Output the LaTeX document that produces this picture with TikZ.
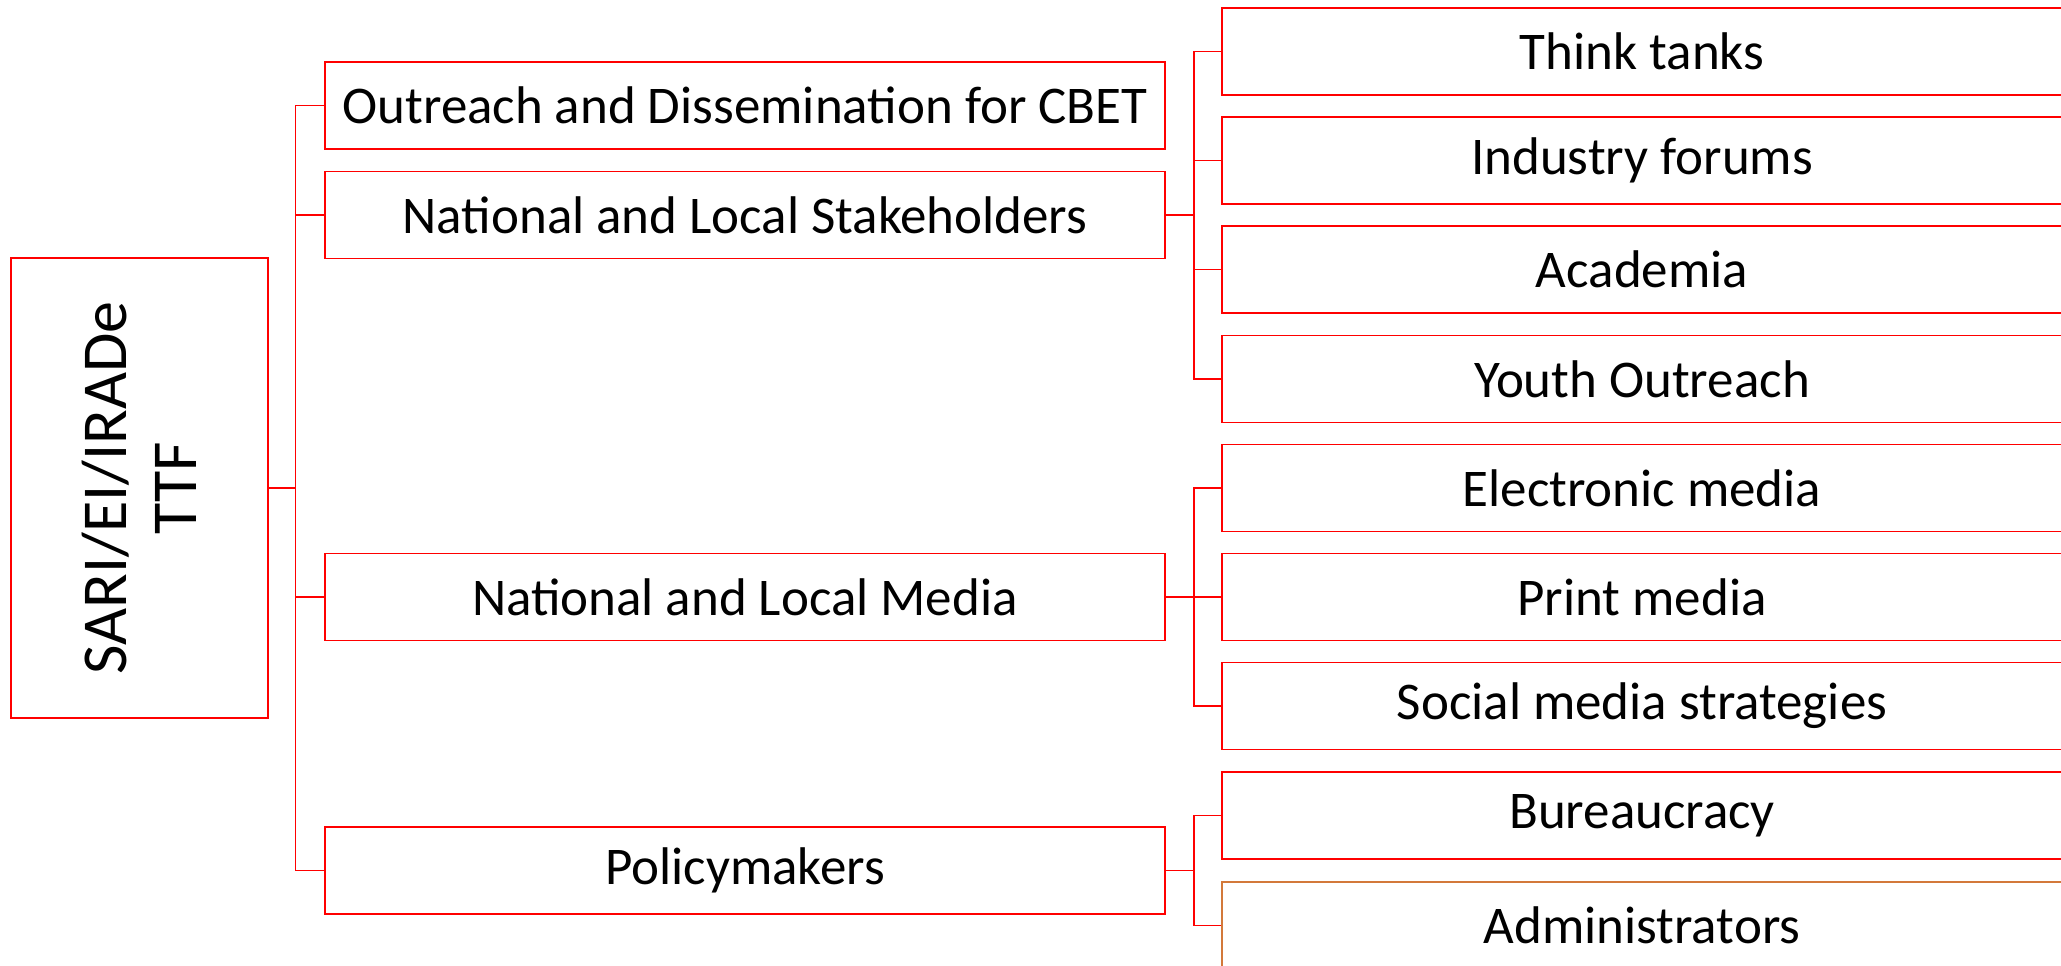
\documentclass[tikz,border=0pt]{standalone}
\usepackage{fontspec}
\setmainfont{Carlito}
\definecolor{boxred}{RGB}{255,0,0}
\definecolor{boxorange}{RGB}{211,121,58}
\begin{document}
\begin{tikzpicture}[x=1pt,y=-1pt,
  box/.style={draw=boxred,line width=1.8pt,inner sep=0pt,minimum width=840pt,minimum height=87pt,
    font=\fontsize{53}{60}\selectfont,anchor=center},
  rootbox/.style={draw=boxred,line width=1.8pt,inner sep=0pt,minimum width=257pt,minimum height=460pt},
  link/.style={draw=boxred,line width=1.8pt}]
\clip (0,0) rectangle (2061,966);
\fill[white] (0,0) rectangle (2061,966);
% root
\node[rootbox] (root) at (139.5,488) {};
\node[rotate=90,align=center,font=\fontsize{64}{70}\selectfont] (roottext) at (139.5,488) {SARI/EI/IRADe\\TTF};
% level 1
\node[box] (out) at (745,105.5) {Outreach and Dissemination for CBET};
\node[box] (stake) at (745,215) {National and Local Stakeholders};
\node[box] (media) at (745,597) {National and Local Media};
\node[box] (policy) at (745,870.5) {Policymakers};
% level 2
\node[box] (think) at (1642,51.5) {Think tanks};
\node[box] (industry) at (1642,160.5) {Industry forums};
\node[box] (acad) at (1642,269.5) {Academia};
\node[box] (youth) at (1642,379) {Youth Outreach};
\node[box] (elec) at (1642,488) {Electronic media};
\node[box] (print) at (1642,597) {Print media};
\node[box] (social) at (1642,706) {Social media strategies};
\node[box] (bureau) at (1642,815.5) {Bureaucracy};
\node[box,draw=boxorange] (admin) at (1642,925.5) {Administrators};
% connectors
\coordinate (j0) at (295.5,488);
\foreach \c in {out,stake,media,policy}
  \draw[link] (root.east) -- (j0) |- (\c.west);
\coordinate (j1) at (1194,215);
\foreach \c in {think,industry,acad,youth}
  \draw[link] (stake.east) -- (j1) |- (\c.west);
\coordinate (j2) at (1194,597);
\foreach \c in {elec,print,social}
  \draw[link] (media.east) -- (j2) |- (\c.west);
\coordinate (j3) at (1194,870.5);
\foreach \c in {bureau,admin}
  \draw[link] (policy.east) -- (j3) |- (\c.west);
\end{tikzpicture}
\end{document}
